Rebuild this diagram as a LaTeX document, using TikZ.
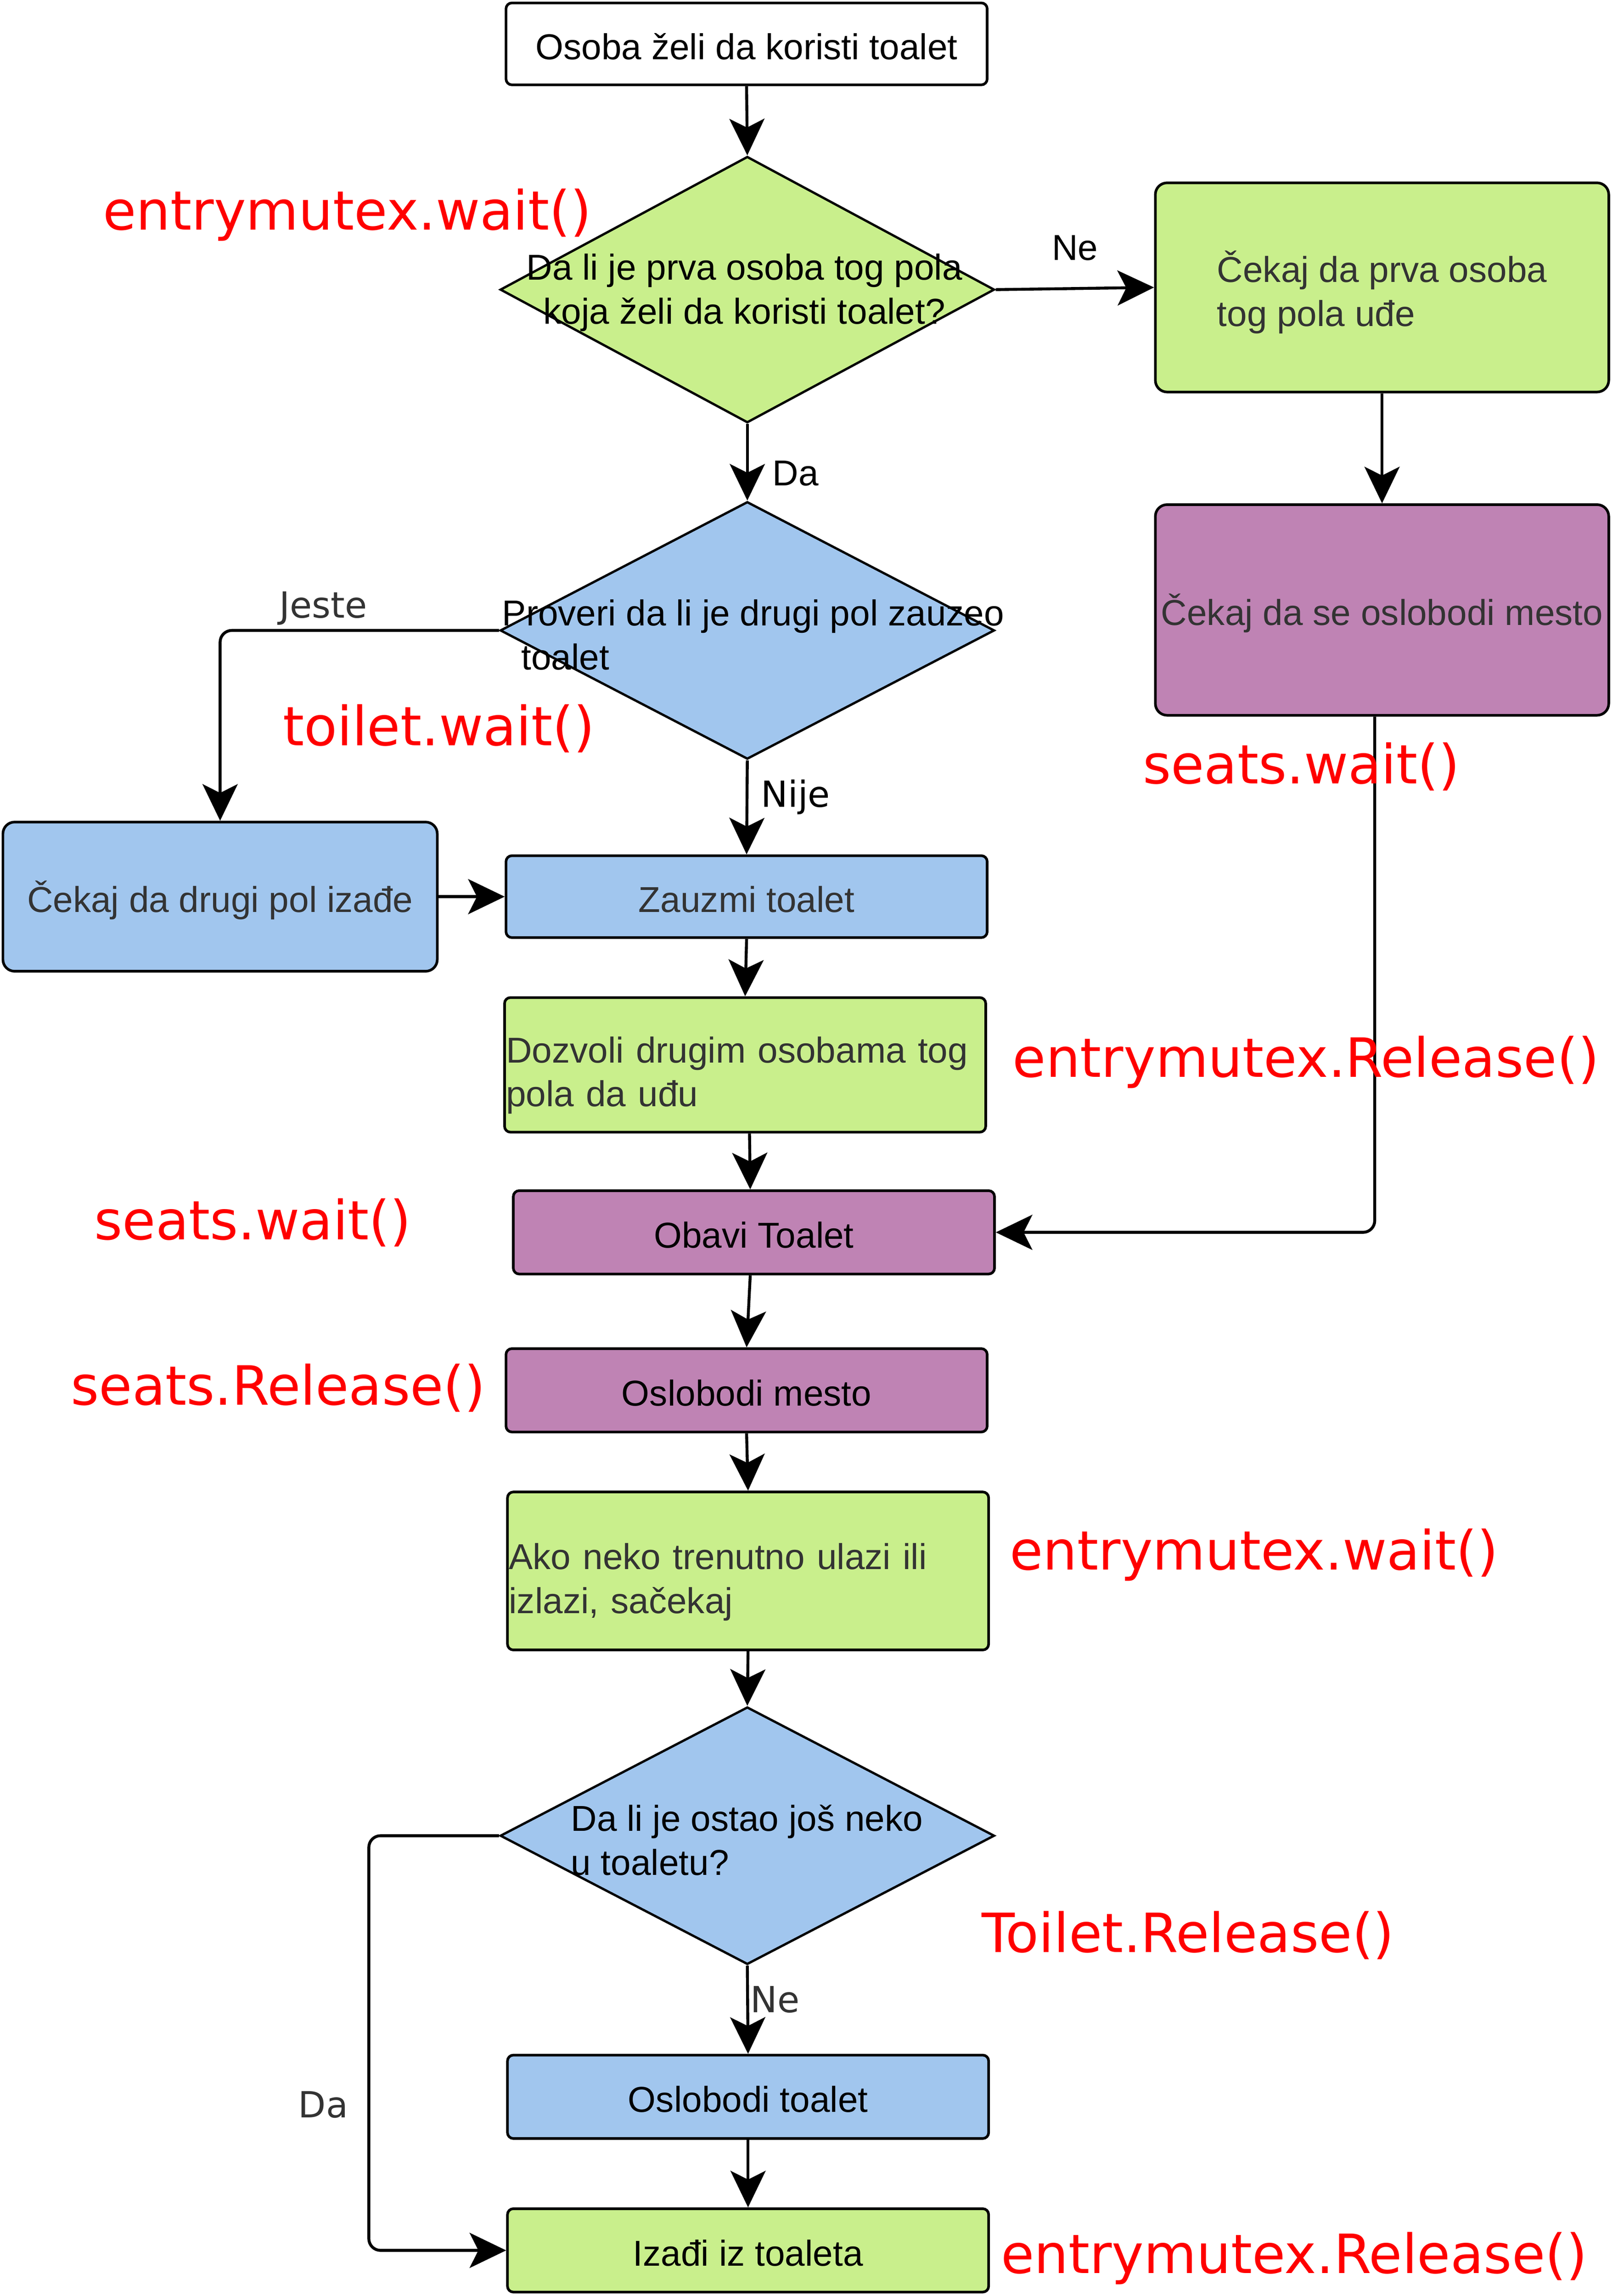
\documentclass[tikz,border=0pt]{standalone}
\usepackage{fontspec}
\setmainfont{Liberation Sans}
\newfontfamily\dejavu{DejaVu Sans}
\usetikzlibrary{shapes.geometric,arrows.meta}
\definecolor{gfill}{RGB}{201,239,140}
\definecolor{bfill}{RGB}{161,198,238}
\definecolor{pfill}{RGB}{191,131,180}
\definecolor{dgray}{RGB}{51,51,51}
\newcommand\bxfont{\fontsize{12.3pt}{15pt}\selectfont}
\newcommand\rdfont{\dejavu\fontsize{18.5pt}{22pt}\selectfont}
\newcommand\lbfont{\dejavu\fontsize{12.3pt}{15pt}\selectfont}
\newcommand\firststrut[1]{\rule{0pt}{#1}}
\begin{document}
\begin{tikzpicture}[x=0.5pt,y=-0.5pt,
  box/.style={draw=black,line width=0.9pt,rounded corners=2pt,inner sep=0pt,font=\bxfont,align=center},
  one/.style={text height=13pt,text depth=2.5pt},
  bigbox/.style={box,rounded corners=4pt},
  dmd/.style={draw=black,line width=0.8pt,shape=diamond,inner sep=0pt,minimum width=169pt,minimum height=89pt},
  dtext/.style={font=\bxfont,inner sep=0pt},
  edge/.style={draw=black,line width=1pt,-{Stealth[length=12.5pt,width=12pt,inset=3pt]}},
  redtxt/.style={font=\rdfont,text=red,inner sep=0pt,anchor=west},
  lbl/.style={font=\lbfont,inner sep=0pt}
]
\useasboundingbox (0,0) rectangle (1102,1569.7);

% boxes
\node[box,one,fill=white,minimum width=164.5pt,minimum height=28pt] (start) at (510.5,30) {Osoba želi da koristi toalet};
\node[dmd,fill=gfill,minimum height=91pt] (d1) at (511,198) {};
\node[dtext,align=center] (d1t) at (509,200) {Da li je prva osoba tog pola\\koja želi da koristi toalet?};
\node[bigbox,fill=gfill,minimum width=155pt,minimum height=71.5pt,align=left,text=dgray] (w1) at (945,196.5) {\firststrut{14pt}Čekaj da prva osoba\\tog pola uđe};
\node[dmd,fill=bfill,minimum height=88pt] (d2) at (511,431) {};
\node[dtext,align=left,anchor=west] (d2t) at (343,434) {Proveri da li je drugi pol zauzeo\\\hspace*{6.5pt}toalet};
\node[bigbox,one,fill=pfill,minimum width=155pt,minimum height=72pt,text=dgray] (w2) at (945,417) {Čekaj da se oslobodi mesto};
\node[bigbox,one,fill=bfill,minimum width=148.5pt,minimum height=51pt,text=dgray] (wl) at (150.5,613) {Čekaj da drugi pol izađe};
\node[box,one,fill=bfill,minimum width=164.5pt,minimum height=28pt,text=dgray] (zz) at (510.5,613) {Zauzmi toalet};
\node[box,fill=gfill,minimum width=164.5pt,minimum height=46pt,text width=163.5pt,inner xsep=0.5pt,align=left,text=dgray] (dz) at (509.5,728) {\firststrut{16pt}Dozvoli drugim osobama tog\\pola da uđu};
\node[box,one,fill=pfill,minimum width=164.5pt,minimum height=28.5pt] (ob) at (515.5,842.5) {Obavi Toalet};
\node[box,one,fill=pfill,minimum width=164.5pt,minimum height=28.5pt] (om) at (510.5,950.5) {Oslobodi mesto};
\node[box,fill=gfill,minimum width=164.5pt,minimum height=54pt,text width=163.5pt,inner xsep=0.5pt,align=left,text=dgray] (ak) at (511.5,1074) {\firststrut{16.5pt}Ako neko trenutno ulazi ili\\izlazi, sačekaj};
\node[dmd,fill=bfill,minimum height=88pt] (d3) at (511,1255) {};
\node[dtext,align=left,anchor=west] (d3t) at (390,1258) {Da li je ostao još neko\\u toaletu?};
\node[box,one,fill=bfill,minimum width=164.5pt,minimum height=28.5pt] (ot) at (511.5,1433.5) {Oslobodi toalet};
\node[box,one,fill=gfill,minimum width=164.5pt,minimum height=28.5pt] (iz) at (511.5,1538.5) {Izađi iz toaleta};

% connectors
\draw[edge] (start.south) -- (d1.north);
\draw[edge] (d1.east) -- (w1.west);
\draw[edge] (w1.south) -- (w2.north);
\draw[edge] (d1.south) -- (d2.north);
\draw[edge,rounded corners=4pt] (d2.west) -| (wl.north);
\draw[edge] (d2.south) -- (zz.north);
\draw[edge] (wl.east) -- (zz.west);
\draw[edge] (zz.south) -- (dz.north);
\draw[edge] ([xshift=1.5pt]dz.south) -- ([xshift=-1.25pt]ob.north);
\draw[edge,rounded corners=4pt] ([xshift=-2.5pt]w2.south) |- (ob.east);
\draw[edge] ([xshift=-1.25pt]ob.south) -- (om.north);
\draw[edge] (om.south) -- (ak.north);
\draw[edge] (ak.south) -- (d3.north);
\draw[edge] (d3.south) -- (ot.north);
\draw[edge] (ot.south) -- (iz.north);
\draw[edge,rounded corners=4pt] (d3.west) -- ++(-89,0) coordinate (dacorner) |- (iz.west);

% connector labels
\node[lbl,font=\bxfont] (lne1) at (735,169.5) {Ne};
\node[lbl,font=\bxfont] (lda1) at (544,323.5) {Da};
\node[lbl,text=dgray] (ljeste) at (221,416) {Jeste};
\node[lbl] (lnije) at (544,545) {Nije};
\node[lbl,text=dgray] (lne2) at (530,1367) {Ne};
\node[lbl,text=dgray] (lda2) at (221,1439) {Da};

% red annotations
\node[redtxt] (r1) at (70,147) {entrymutex.wait()};
\node[redtxt] (r2) at (193,498) {toilet.wait()};
\node[redtxt] (r3) at (781,524) {seats.wait()};
\node[redtxt] (r4) at (692,726) {entrymutex.Release()};
\node[redtxt] (r5) at (64,836) {seats.wait()};
\node[redtxt] (r6) at (48,949) {seats.Release()};
\node[redtxt] (r7) at (690,1063) {entrymutex.wait()};
\node[redtxt] (r8) at (671,1323) {Toilet.Release()};
\node[redtxt] (r9) at (684,1544) {entrymutex.Release()};
\end{tikzpicture}
\end{document}
